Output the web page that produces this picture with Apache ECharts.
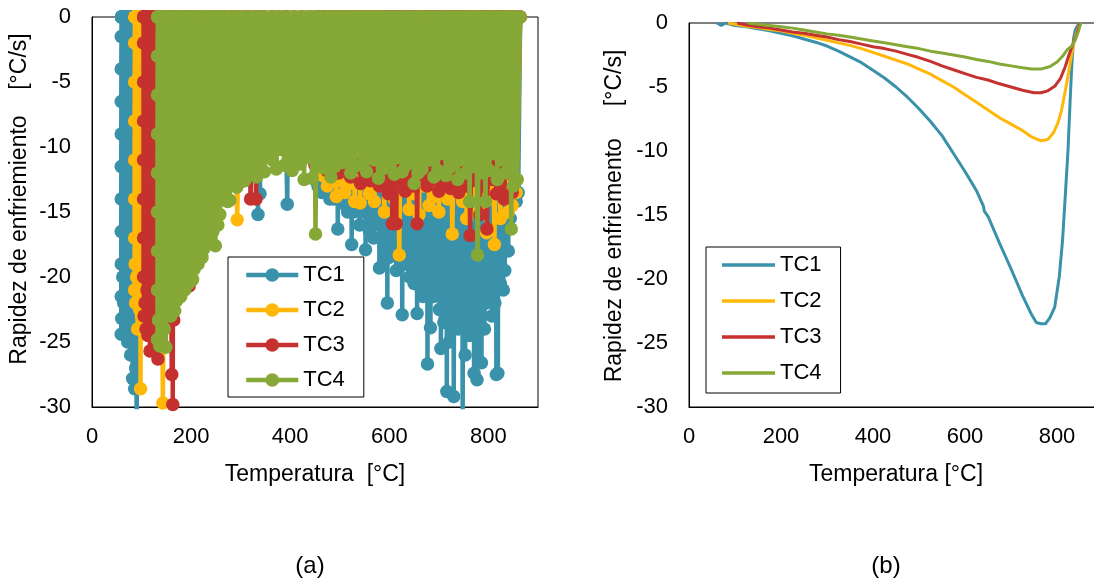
<!DOCTYPE html>
<html>
<head>
<meta charset="utf-8">
<title>Rapidez de enfriamiento</title>
<script src="https://cdn.jsdelivr.net/npm/echarts@6/dist/echarts.min.js"></script>
<style>
  html, body { margin: 0; padding: 0; background: #fff; overflow: hidden; width: 1094px; height: 586px; }
  #panelA { position: absolute; left: 0; top: 0; width: 547px; height: 586px; }
  #panelB { position: absolute; left: 547px; top: 0; width: 600px; height: 586px; }
</style>
</head>
<body>
<div id="panelA"></div>
<div id="panelB"></div>
<script>
// ---- Series names, colours and axis ticks ----
const seriesNames = ['TC1', 'TC2', 'TC3', 'TC4'];
const seriesColors = ['#3A92AA', '#FFB80A', '#C4312E', '#86A836'];
const tempTicks = { min: 0, max: 900, step: 200 };
const rateTicks = { min: -30, max: 0, step: 5 };

// ---- (a) raw cooling rate, [temperature °C, rate °C/s], in acquisition order ----
const tc1Raw = [
  [864,0],[860,-13.5],[858,0],[856,-14.2],[854,0],[852,-13],[850,0],[848,-14.2],[846,0],[844,-15.5],[842,0],[840,-18],[838,0],[836,-16],[835,0],[833,-19.5],[832,0],[830,-21],[828,0],[827,-17],[826,0],[824,-20.5],[823,0],[821,-18.5],[820,0],[819,-27.4],[818,0],[816,-27.5],[815,0],[813,-22],[812,0],[810,-19],[809,0],[807,-23],[806,0],[804,-21.5],[803,0],[801,-18.5],[800,0],[798,-20],[797,0],[795,-22],[794,0],[792,-24],[791,0],[789,-21],[788,0],[786,-26.6],[785,0],[783,-22.5],[782,0],[780,-21],[779,0],[777,-27.9],[776,0],[774,-24],[773,0],[771,-27.4],[770,0],[768,-22.5],[767,0],[765,-21],[764,0],[762,-24.5],[761,0],[759,-20.5],[758,0],[756,-23],[755,0],[753,-26],[752,0],[750,-21],[749,0],[748,-31.5],[747,0],[745,-23],[744,0],[742,-20.5],[741,0],[739,-24],[738,0],[736,-21.5],[735,0],[733,-22.5],[732,0],[730,-29.2],[729,0],[727,-22],[726,0],[724,-20.5],[723,0],[721,-25],[720,0],[718,-23],[717,0],[716,-28.8],[715,0],[713,-21],[712,0],[710,-23.5],[709,0],[707,-20],[706,0],[704,-25.5],[703,0],[701,-22.5],[700,0],[698,-20],[697,0],[695,-21],[694,0],[692,-19],[691,0],[689,-21.5],[688,0],[686,-20],[685,0],[683,-23.9],[682,0],[680,-21.5],[679,0],[677,-26.7],[676,0],[674,-20],[673,0],[671,-19],[670,0],[668,-21.5],[667,0],[665,-21],[664,0],[662,-18.5],[661,0],[659,-20],[658,0],[656,-22.8],[655,0],[653,-19],[652,0],[650,-20.5],[649,0],[647,-19.5],[646,0],[644,-18],[643,0],[641,-20],[640,0],[638,-17.5],[637,0],[635,-19],[634,0],[632,-18],[631,0],[629,-19],[628,0],[626,-22.9],[625,0],[623,-18],[622,0],[620,-17],[619,0],[617,-18],[616,0],[614,-19.5],[613,0],[611,-17.5],[610,0],[608,-17],[607,0],[605,-18],[604,0],[602,-16.5],[601,0],[599,-18.5],[598,0],[596,-22],[595,0],[593,-17.5],[592,0],[590,-16.5],[589,0],[587,-19],[586,0],[584,-17],[582,0],[580,-19.3],[578,0],[576,-16],[574,0],[572,-15.5],[570,0],[568,-17],[566,0],[564,-15],[562,0],[560,-16.5],[558,0],[556,-15],[554,0],[552,-17.9],[550,0],[548,-14.5],[546,0],[544,-15],[542,0],[540,-16],[538,0],[536,-14],[534,0],[532,-14.5],[530,0],[528,-15],[526,0],[524,-17.5],[522,0],[520,-14],[518,0],[516,-15],[514,0],[512,-14.5],[510,0],[508,-13.5],[506,0],[504,-14],[502,0],[500,-13.5],[498,0],[496,-16.3],[494,0],[492,-13],[490,0],[488,-14],[486,0],[484,-13],[482,0],[480,-14],[478,0],[476,-12.5],[474,0],[472,-13],[470,0],[468,-12.5],[466,0],[464,-13.5],[462,0],[460,-12.5],[458,0],[456,-13],[454,0],[452,-12.6],[446,0],
  [440,-8.5],[430,0],[420,-8],[408,0],[400,-8.5],[397,0],[394,-14.4],[388,0],[380,-8],[370,0],[360,-8.5],[350,0],[342,-8],[340,0],[339,-13.6],[337,0],[335,-15.2],[330,0],[322,-8.5],[312,0],[302,-9],[292,0],[285,-10],[278,0],[270,-11],[264,0],[258,-12],[252,0],[245,-13],[239,0],[233,-14],[227,0],[221,-18.3],[216,0],[210,-15],[205,0],[200,-16],[195,0],[190,-17],[185,0],[180,-18],[175,0],[170,-19],[165,0],[160,-20],[155,0],[150,-21],[145,0],[140,-21],[135,0],[130,-22],[125,0],[120,-23],[115,0],[110,-23],[105,0],[100,-24],[96,0],
  [92,0],[90,-31.5],[89,0],[88,-27],[87,0],[86,-28.6],[85,0],[84,-25],[83,0],[82,-27.8],[81,0],[80,-23],[79,0],[78,-26],[77,0],[76,-24],[75,0],[74,-22],[73,0],[72,-25],[71,0],[70,-23],[69,0],[68,-21],[67,0],[66,-24.3],[65,0],[64,-22],[63,0],[62,-20],[61,0],[60,-23.2],[61,0],[59,-24.4],[60,0],[59,-21.5],[60,0],[59,-19],[60,0],[59,-16.5],[60,0],[59,-14],[60,0],[59,-11.5],[60,0],[59,-9],[60,0],[59,-6.5],[60,0],[59,-4],[60,0],[59,-1.5],[60,0]
];
const tc2Raw = [
  [864,0],[856,-13.5],[852,0],[848,-14.5],[844,0],[840,-15],[836,0],[832,-13],[828,0],[824,-15.5],[818,0],[812,-17.5],[808,0],[804,-14],[800,0],[796,-16.6],[792,0],[788,-13.5],[784,0],[780,-15],[776,0],[772,-14],[768,0],[764,-13],[760,0],[756,-15.5],[752,0],[748,-14.2],[744,0],[740,-13.5],[734,0],[727,-16.7],[722,0],[718,-14],[714,0],[710,-13.2],[705,0],[700,-15],[695,0],[690,-13.8],[685,0],[680,-14.5],[675,0],[670,-13],[665,0],[660,-15.2],[655,0],[650,-13.6],[645,0],[640,-14.8],[635,0],[630,-13.2],[625,0],[620,-18.3],[615,0],[610,-14],[605,0],[600,-13.5],[595,0],[590,-15],[585,0],[580,-12.8],[575,0],[570,-14.2],[565,0],[560,-13.6],[555,0],[550,-12.8],[545,0],[541,-14.3],[535,0],[530,-14.2],[525,0],[520,-12.8],[515,0],[510,-13.5],[505,0],[500,-12.6],[496,0],[493,-13.8],[488,0],[484,-12.5],[480,0],[475,-13],[470,0],[465,-12.2],[460,0],[455,-12],[450,0],
  [445,-8.5],[438,0],[430,-8],[422,0],[415,-8.5],[408,0],[400,-8],[392,0],[385,-8.5],[378,0],[370,-8],[362,0],[355,-8.5],[348,0],[340,-8],[332,0],[325,-8.5],[318,0],[310,-9],[300,0],[293,-15.6],[287,0],[280,-11],[272,0],[265,-12],[258,0],[250,-14],[242,0],[235,-15],[228,0],[220,-16],[212,0],[205,-17],[198,0],[191,-19.6],[185,0],[178,-19],[172,0],[165,-20.5],[160,0],[155,-21],[149,0],[143,-29.7],[138,0],[132,-22],[126,0],[120,-21],[115,0],[110,-22],[108,0],
  [106,0],[104,-22],[103,0],[102,-20],[101,0],[100,-23],[99,0],[98,-28.6],[97,0],[96,-22.5],[95,0],[94,-21.3],[93,0],[92,-24],[91,0],[90,-20],[89,0],[88,-22],[87,0],[87,-19],[88,0],[86,-21],[87,0],[86,-17],[87,0],[86,-14],[87,0],[86,-11],[87,0],[86,-8],[87,0],[86,-5],[87,0],[86,-2],[87,0]
];
const tc3Raw = [
  [864,0],[856,-12.5],[852,0],[848,-13.5],[844,0],[840,-12],[836,0],[832,-14],[828,0],[824,-12.8],[820,0],[816,-13.6],[812,0],[808,-12.5],[803,0],[797,-16.3],[794,0],[790,-13],[787,0],[783,-15.2],[779,0],[774,-12.6],[769,0],[763,-16.8],[759,0],[755,-13],[752,0],[748,-12.2],[744,0],[740,-13.5],[736,0],[732,-12.6],[728,0],[724,-13.2],[720,0],[716,-12],[712,0],[708,-12.8],[704,0],[700,-13.4],[696,0],[692,-12.5],[688,0],[684,-12.2],[680,0],[676,-13],[672,0],[668,-12.4],[662,0],[656,-15.9],[652,0],[648,-13],[644,0],[640,-12.5],[636,0],[632,-13.4],[627,0],[622,-12.7],[618,0],[614,-15.9],[610,0],[606,-15.9],[602,0],[598,-13.6],[594,0],[590,-12.4],[585,0],[580,-13],[575,0],[571,-11.8],[566,0],[562,-12.6],[557,0],[552,-12],[547,0],[542,-12.8],[537,0],[532,-11.6],[527,0],[522,-12.3],[516,0],[510,-11.5],[504,0],[498,-12],[492,0],[486,-11.2],[480,0],[474,-11.8],[468,0],[462,-11],[456,0],[450,-11.4],[440,0],
  [430,-8.5],[422,0],[415,-8],[408,0],[400,-8.5],[392,0],[385,-8],[378,0],[370,-8.5],[362,0],[355,-8],[348,0],[340,-9],[336,0],[331,-14],[326,0],[320,-14],[315,0],[310,-10],[305,0],[299,-12.7],[294,0],[288,-11],[282,0],[275,-12],[268,0],[262,-13],[256,0],[250,-14.5],[244,0],[238,-15.5],[232,0],[226,-16.5],[220,0],[214,-17.5],[209,0],[204,-18.5],[200,0],[196,-20.7],[193,0],[189,-18.5],[185,0],[180,-20],[176,0],[172,-21],[168,0],[165,-23.3],[164,0],[163,-29.8],[162,0],[161,-27.5],[156,0],[150,-23],[145,0],[140,-24],[137,0],[133,-26.3],[130,0],[127,-23],[124,0],
  [122,0],[121,-25.6],[120,0],[119,-24],[118,0],[117,-25.7],[116,0],[115,-23],[114,0],[113,-24.5],[112,0],[111,-21],[110,0],[109,-24],[108,0],[107,-22],[106,0],[105,-23],[104,0],[104,-20],[105,0],[104,-17],[105,0],[104,-14],[105,0],[104,-11],[105,0],[104,-8],[105,0],[104,-5],[105,0],[104,-2],[105,0]
];
const tc4Raw = [
  [864,0],[858,-12.5],[854,0],[850,-13],[848,0],[846,-16.3],[844,0],[842,-11.5],[838,0],[834,-12],[830,0],[826,-11],[822,0],[818,-12.5],[814,0],[810,-10.5],[806,0],[802,-11.8],[798,0],[794,-14.2],[790,0],[786,-12],[782,0],[778,-18.3],[774,0],[770,-11.5],[766,0],[762,-14.2],[758,0],[754,-12],[750,0],[746,-11],[742,0],[738,-12.5],[734,0],[730,-10.8],[726,0],[722,-11.6],[718,0],[714,-12.2],[710,0],[706,-10.5],[702,0],[698,-11.8],[694,0],[690,-12.3],[686,0],[682,-11],[678,0],[674,-10.4],[670,0],[666,-11.7],[662,0],[658,-12],[654,0],[650,-12.8],[646,0],[642,-10.6],[638,0],[634,-11.4],[630,0],[626,-11.9],[622,0],[618,-10.8],[614,0],[610,-12.1],[606,0],[602,-11.2],[598,0],[594,-10.5],[590,0],[586,-11.7],[582,0],[578,-12.4],[574,0],[570,-11],[566,0],[562,-10.7],[558,0],[554,-11.9],[550,0],[546,-11.3],[542,0],[538,-10.4],[534,0],[530,-11.5],[526,0],[522,-12],[518,0],[514,-10.8],[510,0],[506,-11.2],[502,0],[498,-10.5],[494,0],[490,-11.5],[486,0],[482,-12.3],[478,0],[474,-10.9],[470,0],[466,-11.6],[462,0],[458,-11],[455,0],[451,-16.7],[448,0],[444,-12.4],[440,0],[436,-10.8],[432,0],[428,-12.5],[424,0],[420,-11.3],[416,0],[412,-10.5],[408,0],[404,-11.8],[400,0],[396,-10.9],[392,0],[388,-11.4],[384,0],[380,-10.2],[376,0],[372,-11.7],[368,0],[364,-11],[360,0],[356,-10.4],[352,0],[348,-11.9],[344,0],[340,-11.2],[336,0],[332,-12.3],[328,0],[324,-12],[320,0],[316,-11.5],[312,0],[308,-12.6],[304,0],[300,-12.2],[296,0],[292,-13.1],[288,0],[284,-12.6],[281,0],[278,-14.1],[276,0],[274,-14.2],[271,0],[268,-13.5],[266,0],[264,-14],[261,0],[258,-15.2],[256,0],[254,-16],[252,0],[249,-17.6],[247,0],[244,-16.5],[242,0],[240,-15.8],[238,0],[236,-17],[234,0],[231,-16.4],[229,0],[226,-17.8],[224,0],[222,-18.5],[220,0],[218,-17.6],[216,0],[214,-19],[212,0],[210,-18.2],[208,0],[206,-19.4],[205,0],[203,-20.2],[201,0],[199,-19],[197,0],[195,-20.5],[193,0],[191,-19.8],[189,0],[187,-21],[185,0],[183,-20.4],[181,0],[179,-21.5],[177,0],[175,-19.5],[173,0],[171,-21.8],[169,0],[167,-22.6],[165,0],[163,-21.5],[161,0],[159,-23],[157,0],[155,-22],[154,0],[152,-21.9],[151,0],[149,-25.4],[148,0],[146,-24],[145,0],[143,-23],[142,0],[140,-24.5],[139,0],[137,-25.3],[136,0],[134,-23.3],[133,0],[132,-24.8],
  [133,0],[132,-21],[133,0],[132,-18],[133,0],[132,-15],[133,0],[132,-12],[133,0],[132,-9],[133,0],[132,-6],[133,0],[132,-3],[133,0]
];

// ---- (b) smoothed cooling rate, [temperature °C, rate °C/s] ----
const tc1Smooth = [
  [61,0],[70,-0.2],[80,0],[90,-0.1],[100,-0.2],[125,-0.3],[150,-0.45],[175,-0.6],[200,-0.8],[225,-1.0],[250,-1.25],[275,-1.5],[300,-1.8],[325,-2.2],[350,-2.65],[375,-3.1],[400,-3.7],[425,-4.3],[450,-5.0],[475,-5.8],[500,-6.7],[525,-7.7],[550,-8.8],[575,-10.2],[600,-11.6],[625,-13.1],[640,-14.3],[642,-14.7],[650,-15.1],[675,-17.2],[700,-19.2],[725,-21.3],[745,-22.8],[755,-23.4],[765,-23.5],[775,-23.5],[785,-23.0],[795,-22.2],[805,-19.8],[812,-17],[818,-13.5],[824,-9.9],[828,-6.5],[832,-3.4],[836,-1.2],[840,-0.5],[845,-0.2],[850,0]
];
const tc2Smooth = [
  [85,0],[100,-0.1],[125,-0.25],[150,-0.35],[175,-0.5],[200,-0.6],[225,-0.8],[250,-0.95],[275,-1.15],[300,-1.35],[325,-1.55],[350,-1.75],[375,-2.0],[400,-2.3],[425,-2.6],[450,-2.9],[475,-3.2],[500,-3.6],[525,-4.0],[550,-4.5],[575,-5.0],[600,-5.6],[625,-6.2],[650,-6.8],[675,-7.4],[700,-7.9],[725,-8.4],[745,-8.9],[765,-9.2],[780,-9.1],[792,-8.6],[802,-7.8],[810,-6.8],[818,-5.3],[825,-3.9],[832,-2.4],[838,-1.3],[844,-0.6],[850,0]
];
const tc3Smooth = [
  [105,0],[125,-0.15],[150,-0.3],[175,-0.4],[200,-0.55],[225,-0.7],[250,-0.8],[275,-0.95],[300,-1.1],[325,-1.3],[350,-1.45],[375,-1.65],[400,-1.85],[425,-2.0],[450,-2.2],[475,-2.45],[500,-2.7],[525,-3.0],[550,-3.35],[575,-3.65],[600,-3.95],[625,-4.25],[650,-4.45],[675,-4.75],[700,-5.0],[725,-5.25],[750,-5.45],[765,-5.45],[780,-5.3],[795,-4.95],[808,-4.3],[818,-3.4],[826,-2.5],[834,-1.7],[842,-1.0],[850,0]
];
const tc4Smooth = [
  [128,0],[150,-0.1],[175,-0.2],[200,-0.3],[225,-0.4],[250,-0.55],[275,-0.7],[300,-0.85],[325,-0.95],[350,-1.1],[375,-1.25],[400,-1.4],[425,-1.55],[450,-1.7],[475,-1.85],[500,-2.0],[525,-2.2],[550,-2.35],[575,-2.5],[600,-2.65],[625,-2.85],[650,-3.0],[675,-3.2],[700,-3.35],[725,-3.5],[745,-3.6],[765,-3.6],[785,-3.4],[800,-3.05],[812,-2.6],[822,-2.1],[832,-1.8],[840,-1.3],[846,-0.7],[852,0]
];

const rawSets = [tc1Raw, tc2Raw, tc3Raw, tc4Raw];
const smoothSets = [tc1Smooth, tc2Smooth, tc3Smooth, tc4Smooth];

const FONT = 'Liberation Sans, Arial, sans-serif';

// Shared value axes; the vertical title is drawn as a rotated text element.
function axes(xTitle) {
  return {
    xAxis: {
      type: 'value', min: tempTicks.min, max: tempTicks.max, interval: tempTicks.step,
      axisLine: { show: true, onZero: false, lineStyle: { color: '#000', width: 1 } },
      axisTick: { show: false }, splitLine: { show: false },
      axisLabel: { fontSize: 22, fontFamily: FONT, color: '#000', margin: 19, showMaxLabel: false },
      name: xTitle, nameLocation: 'middle', nameGap: 56,
      nameTextStyle: { fontSize: 23, fontFamily: FONT, color: '#000' }
    },
    yAxis: {
      type: 'value', min: rateTicks.min, max: rateTicks.max, interval: rateTicks.step,
      axisLine: { show: true, onZero: false, lineStyle: { color: '#000', width: 1 } },
      axisTick: { show: false }, splitLine: { show: false },
      axisLabel: { fontSize: 22, fontFamily: FONT, color: '#000', margin: 21 }
    }
  };
}

function textEl(text, x, y, size, rotation) {
  return {
    type: 'text', x, y, rotation: rotation || 0,
    style: { text, fontSize: size, fontFamily: FONT, fill: '#000', align: 'center', verticalAlign: 'middle' }
  };
}

// Each series gets its own z so a later thermocouple (line and markers) paints over earlier ones.
function seriesZ(i) { return 2 + i; }

// ---- Panel (a): raw derivative, lines with circular markers ----
const chartA = echarts.init(document.getElementById('panelA'), null, { renderer: 'canvas' });
chartA.setOption(Object.assign({
  animation: false,
  grid: { left: 92, top: 17, width: 446, height: 390, show: true, borderColor: '#000', borderWidth: 1 },
  legend: {
    orient: 'vertical', left: 228, top: 257, selectedMode: false, z: 20,
    padding: [7, 19, 6, 16], itemWidth: 52, itemHeight: 17, itemGap: 13,
    lineStyle: { width: 4.5 },
    backgroundColor: '#fff', borderColor: '#000', borderWidth: 1,
    textStyle: { fontSize: 22, lineHeight: 22, fontFamily: FONT, color: '#000' },
    data: seriesNames
  },
  graphic: [
    textEl('Rapidez de enfriemiento    [°C/s]', 20, 199, 23, Math.PI / 2),
    textEl('(a)', 310, 566, 24)
  ],
  series: seriesNames.map((name, i) => ({
    name, type: 'line', data: rawSets[i], z: seriesZ(i),
    color: seriesColors[i],
    symbol: 'circle', symbolSize: 13.5, showAllSymbol: true,
    lineStyle: { width: 4.5, color: seriesColors[i] },
    itemStyle: { color: seriesColors[i] },
    emphasis: { disabled: true }, silent: true
  }))
}, axes('Temperatura  [°C]')));

// ---- Panel (b): smoothed derivative, plain lines ----
const chartB = echarts.init(document.getElementById('panelB'), null, { renderer: 'canvas' });
chartB.setOption(Object.assign({
  animation: false,
  grid: { left: 142, top: 23, width: 414, height: 384, show: true, borderColor: '#000', borderWidth: 1 },
  legend: {
    orient: 'vertical', left: 159, top: 247, selectedMode: false, icon: 'rect', z: 20,
    padding: [7, 19, 9, 16], itemWidth: 53, itemHeight: 3.5, itemGap: 14,
    backgroundColor: '#fff', borderColor: '#000', borderWidth: 1,
    textStyle: { fontSize: 22, lineHeight: 22, fontFamily: FONT, color: '#000' },
    data: seriesNames
  },
  graphic: [
    textEl('Rapidez de enfriemento     [°C/s]', 68, 216, 23, Math.PI / 2),
    textEl('(b)', 339, 566, 24)
  ],
  series: seriesNames.map((name, i) => ({
    name, type: 'line', data: smoothSets[i], z: seriesZ(i),
    color: seriesColors[i],
    symbol: 'none', showSymbol: false,
    lineStyle: { width: 3, color: seriesColors[i] },
    itemStyle: { color: seriesColors[i] },
    emphasis: { disabled: true }, silent: true
  }))
}, axes('Temperatura [°C]')));
</script>
</body>
</html>
